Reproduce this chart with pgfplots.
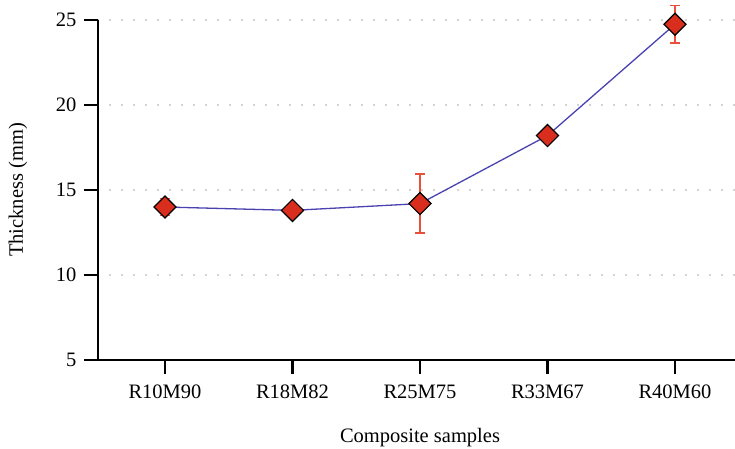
\documentclass[border=0pt]{standalone}
\usepackage{fontspec}
\setmainfont{Liberation Serif}
\usepackage{pgfplots}
\pgfplotsset{compat=1.18}
\definecolor{linecol}{HTML}{4A42B0}
\definecolor{markred}{HTML}{D92E1E}
\definecolor{errcol}{HTML}{E8503A}
\newcommand{\chartfont}{\fontsize{20.5}{24}\selectfont}
\begin{document}
\begin{tikzpicture}
\begin{axis}[name=ax,
  scale only axis, width=637pt, height=340pt,
  xmin=-0.5255, xmax=4.4706, ymin=5, ymax=25, clip=false,
  axis x line=bottom, axis y line=left,
  axis line style={-, line width=2.8pt, black},
  x axis line style={shorten <=-14pt},
  xtick={0,1,2,3,4},
  xticklabels={R10M90,R18M82,R25M75,R33M67,R40M60},
  ytick={5,10,15,20,25},
  tick align=outside, major tick length=14pt,
  tick style={line width=2.8pt, black},
  ymajorgrids,
  major grid style={gray!70, line width=1.6pt, line cap=round, dash pattern=on 0pt off 12pt},
  tick label style={font=\chartfont},
  xticklabel style={yshift=-7pt},
  yticklabel style={xshift=-4pt},
  label style={font=\chartfont},
  xlabel style={at={(axis description cs:0.5055,0)}, anchor=center, yshift=-78pt},
  ylabel style={at={(axis description cs:0,0.5)}, anchor=center, yshift=80pt},
  /pgf/number format/assume math mode=true,
  xlabel={Composite samples}, ylabel={Thickness (mm)},
]
\addplot[color=linecol, line width=1.3pt,
  mark=square*, mark size=7.8pt,
  mark options={rotate=45, fill=markred, draw=black, line width=1.2pt},
  error bars/.cd, y dir=both, y explicit,
  error bar style={errcol, line width=1.8pt},
  error mark options={rotate=90, errcol, mark size=5pt, line width=1.8pt}]
  table[x=x, y=y, y error=e] {
  x y     e
  0 14.0  0.5
  1 13.8  0.3
  2 14.2  1.73
  3 18.2  0.3
  4 24.75 1.1
  };
\end{axis}
\pgfresetboundingbox
\path (ax.south west) ++(-98pt,-89pt) rectangle ++(735pt,449pt);
\end{tikzpicture}
\end{document}
